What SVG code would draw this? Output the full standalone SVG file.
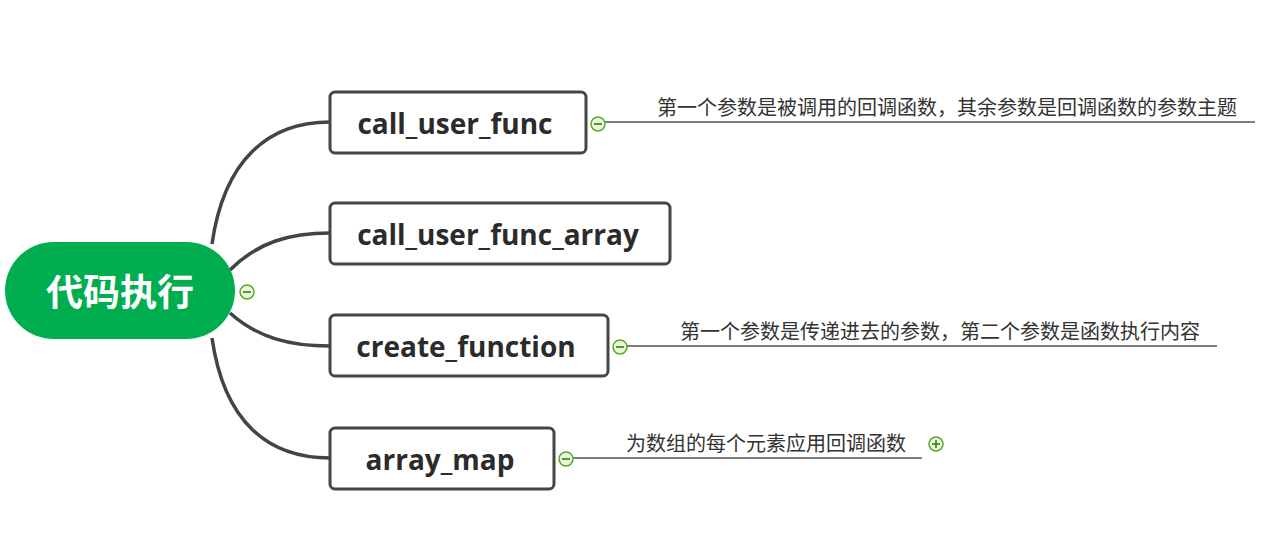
<svg xmlns="http://www.w3.org/2000/svg" width="1271" height="543" viewBox="0 0 1271 543">
<defs>
<style>
.node rect{fill:#fff;stroke:#454545;stroke-width:3}
.nt{font-family:"Open Sans","Noto Sans",sans-serif;font-weight:bold;font-size:28px;fill:#2b2b2b;text-anchor:middle}
.note{font-family:"Noto Sans CJK SC",sans-serif;font-size:20px;fill:#333}
.conn path{fill:none;stroke:#444;stroke-width:3.5}
.ul{stroke:#555;stroke-width:1.5}
.tog circle{fill:#eaf6dc;stroke:#5aa82a;stroke-width:1.5}
.tog line{stroke:#4a8a20;stroke-width:1.8}
</style>
</defs>
<g id="connectors" class="conn">
<path d="M212 244 C224 160 268 122 330 122"/>
<path d="M230 270 C258 242 290 233 330 233"/>
<path d="M230 313 C258 338 290 346 330 346"/>
<path d="M212 338 C224 422 268 458 330 458"/>
</g>
<g id="root">
<rect x="5" y="242" width="230" height="97" rx="48.5" fill="#00ad4f"/>
<text x="120" y="306" font-family="'Noto Sans CJK SC',sans-serif" font-weight="bold" font-size="37" fill="#fff" text-anchor="middle">代码执行</text>
<g class="tog"><circle cx="247" cy="292" r="7"/><line x1="243" y1="292" x2="251" y2="292"/></g>
</g>
<g id="n1" class="node">
<rect x="330" y="92" width="256" height="61" rx="5"/>
<text class="nt" x="455" y="134">call_user_func</text>
<line class="ul" x1="605" y1="122" x2="1255" y2="122"/>
<text class="note" x="657" y="115">第一个参数是被调用的回调函数，其余参数是回调函数的参数主题</text>
<g class="tog"><circle cx="598" cy="124" r="7"/><line x1="594" y1="124" x2="602" y2="124"/></g>
</g>
<g id="n2" class="node">
<rect x="330" y="203" width="340" height="61" rx="5"/>
<text class="nt" x="498" y="245">call_user_func_array</text>
</g>
<g id="n3" class="node">
<rect x="330" y="315" width="278" height="61" rx="5"/>
<text class="nt" x="466" y="357">create_function</text>
<line class="ul" x1="627" y1="346" x2="1217" y2="346"/>
<text class="note" x="680" y="339">第一个参数是传递进去的参数，第二个参数是函数执行内容</text>
<g class="tog"><circle cx="620" cy="347" r="7"/><line x1="616" y1="347" x2="624" y2="347"/></g>
</g>
<g id="n4" class="node">
<rect x="330" y="428" width="224" height="61" rx="5"/>
<text class="nt" x="440" y="470">array_map</text>
<line class="ul" x1="573" y1="458" x2="922" y2="458"/>
<text class="note" x="626" y="451">为数组的每个元素应用回调函数</text>
<g class="tog"><circle cx="566" cy="459" r="7"/><line x1="562" y1="459" x2="570" y2="459"/></g>
<g class="tog"><circle cx="936" cy="444" r="7"/><line x1="932" y1="444" x2="940" y2="444"/><line x1="936" y1="440" x2="936" y2="448"/></g>
</g>
</svg>
